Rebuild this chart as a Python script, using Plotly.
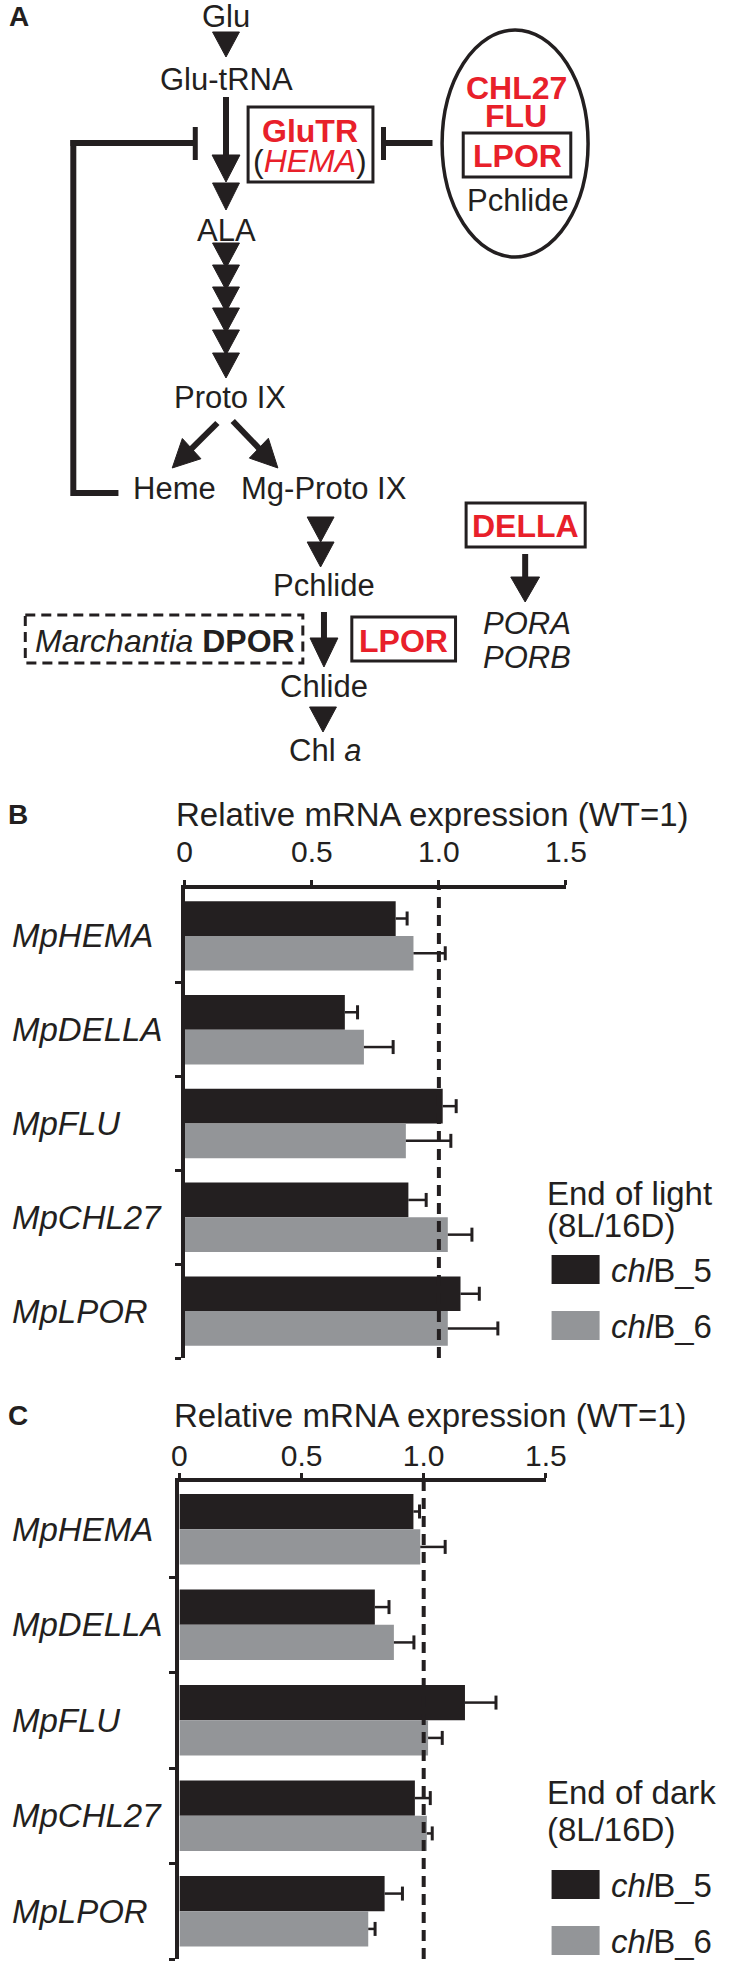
import plotly.graph_objects as go

# ---- data -------------------------------------------------------------
genes = ['MpHEMA', 'MpDELLA', 'MpFLU', 'MpCHL27', 'MpLPOR']

light_b5 = [0.83, 0.63, 1.015, 0.88, 1.085]
light_b5_err = [0.045, 0.05, 0.053, 0.07, 0.074]
light_b6 = [0.90, 0.705, 0.87, 1.035, 1.035]
light_b6_err = [0.125, 0.115, 0.177, 0.095, 0.197]

dark_b5 = [0.958, 0.80, 1.169, 0.964, 0.84]
dark_b5_err = [0.025, 0.058, 0.127, 0.063, 0.073]
dark_b6 = [0.986, 0.878, 1.018, 1.013, 0.773]
dark_b6_err = [0.102, 0.082, 0.058, 0.022, 0.028]

x_tickvals = [0, 0.5, 1.0, 1.5]
x_ticktext = ['0', '0.5', '1.0', '1.5']
series_names = ['<i>chl</i>B_5', '<i>chl</i>B_6']

# ---- style ------------------------------------------------------------
W, H = 732, 1963
INK = '#231F20'
GREY = '#939598'
RED = '#E8202A'
FONT = 'Liberation Sans, Arial, Helvetica, sans-serif'
BARGAP = 0.26


def px(x):
    return x / W


def py(y):
    return 1 - y / H


shapes = []
annotations = []


def line(x0, y0, x1, y1, w=6, dash=None):
    shapes.append(dict(type='line', xref='paper', yref='paper',
                       x0=px(x0), y0=py(y0), x1=px(x1), y1=py(y1),
                       line=dict(color=INK, width=w, dash=dash)))


def rect(x0, y0, x1, y1, w=3, dash=None):
    shapes.append(dict(type='rect', xref='paper', yref='paper',
                       x0=px(x0), y0=py(y0), x1=px(x1), y1=py(y1),
                       line=dict(color=INK, width=w, dash=dash)))


def poly(pts):
    d = 'M ' + ' L '.join('%.5f,%.5f' % (px(a), py(b)) for a, b in pts) + ' Z'
    shapes.append(dict(type='path', xref='paper', yref='paper', path=d,
                       fillcolor=INK, line=dict(color=INK, width=1)))


def tri(xc, ytop, ybot, w=28):
    poly([(xc - w / 2, ytop), (xc + w / 2, ytop), (xc, ybot)])


def diag_arrow(x0, y0, x1, y1, L=28, hw=14):
    dx, dy = x1 - x0, y1 - y0
    n = (dx * dx + dy * dy) ** 0.5
    ux, uy = dx / n, dy / n
    bx, by = x1 - ux * L, y1 - uy * L
    line(x0, y0, bx + ux * 3, by + uy * 3, w=6)
    poly([(x1, y1), (bx - uy * hw, by + ux * hw), (bx + uy * hw, by - ux * hw)])


def text(x, y, s, size=31, color=INK, anchor='center'):
    annotations.append(dict(xref='paper', yref='paper', x=px(x), y=py(y),
                            text=s, showarrow=False, xanchor=anchor,
                            yanchor='middle',
                            font=dict(family=FONT, size=size, color=color)))


# ---- panel A: pathway -------------------------------------------------
text(11, 16, '<b>A</b>', size=28)
text(227, 16, 'Glu')
tri(227, 32, 57)
text(228, 80, 'Glu-tRNA')
line(227, 97, 227, 158)
tri(227, 155, 182, w=29)
tri(227, 183, 210)
text(227.5, 230, 'ALA')
for top in [243, 265, 287, 308, 330, 353]:
    tri(227, top, top + 25)
text(231, 397, 'Proto IX')
diag_arrow(218, 423, 171, 468)
diag_arrow(234, 421, 281, 468)
text(173, 489, 'Heme')
text(329, 489, 'Mg-Proto IX')

# heme feedback
line(115, 493, 68, 493)
line(68, 496, 68, 140)
line(65, 143, 195, 143)
line(195, 127, 195, 160, w=5)

# GluTR box
rect(250, 107, 380, 182)
text(314, 131, '<b>GluTR</b>', size=32, color=RED)
text(314, 161, "(<i><span style='color:%s'>HEMA</span></i>)" % RED, size=32)

# repression from ellipse
line(442, 143, 391, 143)
line(391, 127, 391, 160, w=5)
shapes.append(dict(type='circle', xref='paper', yref='paper',
                   x0=px(452), y0=py(30), x1=px(604), y1=py(257),
                   line=dict(color=INK, width=3.5)))
text(529.5, 88, '<b>CHL27</b>', size=32, color=RED)
text(529, 116, '<b>FLU</b>', size=32, color=RED)
rect(474, 133, 586, 177)
text(530, 156, '<b>LPOR</b>', size=32, color=RED)
text(531, 201, 'Pchlide')

# lower pathway
tri(325.5, 517, 542)
tri(325.5, 542, 567)
text(329, 586, 'Pchlide')
line(329, 612, 329, 641)
tri(329, 638, 667, w=29)
rect(18, 615, 307, 663, w=3, dash='10px,6px')
text(163, 641, '<i>Marchantia</i> <b>DPOR</b>', size=32)
rect(358, 617, 466, 661)
text(412, 641, '<b>LPOR</b>', size=32, color=RED)
text(329.5, 686, 'Chlide')
tri(328, 707, 732)
text(330, 751, 'Chl <i>a</i>')

rect(477, 503, 601, 547)
text(539, 526, '<b>DELLA</b>', size=32, color=RED)
line(538.5, 554, 538.5, 580)
tri(538.5, 577, 602, w=30)
text(540, 623, '<i>PORA</i>')
text(540, 658, '<i>PORB</i>')

# ---- panels B and C: bar charts --------------------------------------
fig = go.Figure()
idx = list(range(len(genes)))
off = (1 - BARGAP) / 4

panels = [
    dict(xa='x', ya='y', b5=light_b5, e5=light_b5_err, b6=light_b6, e6=light_b6_err),
    dict(xa='x2', ya='y2', b5=dark_b5, e5=dark_b5_err, b6=dark_b6, e6=dark_b6_err),
]

for p in panels:
    for vals, errs, col, shift, name in [(p['b5'], p['e5'], INK, -off, series_names[0]),
                                         (p['b6'], p['e6'], GREY, off, series_names[1])]:
        fig.add_trace(go.Bar(
            x=vals, y=idx, orientation='h', name=name,
            marker=dict(color=col, line=dict(width=0)),
            error_x=dict(type='data', symmetric=False, array=errs,
                         arrayminus=[0] * len(errs), width=0,
                         thickness=2.5, color=INK),
            xaxis=p['xa'], yaxis=p['ya'], hoverinfo='skip', showlegend=False))
        fig.add_trace(go.Scatter(
            x=[v + e for v, e in zip(vals, errs)], y=[i + shift for i in idx],
            mode='markers',
            marker=dict(symbol='line-ns', size=10, line=dict(width=3, color=INK)),
            xaxis=p['xa'], yaxis=p['ya'], hoverinfo='skip', showlegend=False))
    # WT = 1 reference line
    shapes.append(dict(type='line', xref=p['xa'], yref=p['ya'] + ' domain',
                       x0=1, x1=1, y0=0, y1=1, layer='above',
                       line=dict(color=INK, width=4, dash='11px,7px')))
    for i, g in zip(idx, genes):
        annotations.append(dict(xref='paper', yref=p['ya'], x=px(2), y=i,
                                text='<i>%s</i>' % g, showarrow=False,
                                xanchor='left', yanchor='middle',
                                font=dict(family=FONT, size=33, color=INK)))

xaxis_style = dict(range=[0, 1.5], side='top', tickvals=x_tickvals,
                   ticktext=x_ticktext, showline=True, linewidth=4,
                   linecolor=INK, ticks='outside', ticklen=5, tickwidth=3,
                   tickcolor=INK, showgrid=False, zeroline=False,
                   tickfont=dict(family=FONT, size=30, color=INK))
yaxis_style = dict(range=[len(genes) - 0.5, -0.5], showline=True, linewidth=4,
                   linecolor=INK, tickvals=[i + 0.5 for i in idx],
                   ticks='outside', ticklen=6, tickwidth=3, tickcolor=INK,
                   showticklabels=False, showgrid=False, zeroline=False)

fig.update_layout(
    xaxis=dict(domain=[px(184), px(581)], anchor='y', ticklabelstandoff=6,
               **xaxis_style),
    yaxis=dict(domain=[py(1358), py(889)], anchor='x', **yaxis_style),
    xaxis2=dict(domain=[px(178.5), px(560)], anchor='y2', ticklabelstandoff=-5,
                **xaxis_style),
    yaxis2=dict(domain=[py(1959), py(1481.5)], anchor='x2', **yaxis_style),
)

# titles, panel letters, legends
for letter, ty, lx in [('B', 814, 173), ('C', 1415, 171)]:
    text(10, ty, '<b>%s</b>' % letter, size=28)
    text(lx, ty, 'Relative mRNA expression (WT=1)', size=33, anchor='left')

for head1, y1, y2, sq in [('End of light', 1193, 1225, (1255, 1311)),
                          ('End of dark', 1792, 1829, (1870, 1926))]:
    text(559, y1, head1, size=33, anchor='left')
    text(559, y2, '(8L/16D)', size=33, anchor='left')
    for top, col, name in zip(sq, [INK, GREY], series_names):
        shapes.append(dict(type='rect', xref='paper', yref='paper',
                           x0=px(566), x1=px(616), y0=py(top), y1=py(top + 29),
                           fillcolor=col, line=dict(width=0)))
        text(626, top + 15, name, size=33, anchor='left')

fig.update_layout(
    width=W, height=H, autosize=False,
    margin=dict(l=0, r=0, t=0, b=0),
    paper_bgcolor='white', plot_bgcolor='white',
    barmode='group', bargap=BARGAP, bargroupgap=0,
    showlegend=False,
    shapes=shapes, annotations=annotations,
    font=dict(family=FONT, color=INK),
)

# the page's default body margin would push the figure off the window edge
page_fix = ("document.body.style.margin='0px';"
            "document.documentElement.style.overflow='hidden';")
fig.write_html('out.html', post_script=page_fix,
               config={'displayModeBar': False, 'responsive': False})
